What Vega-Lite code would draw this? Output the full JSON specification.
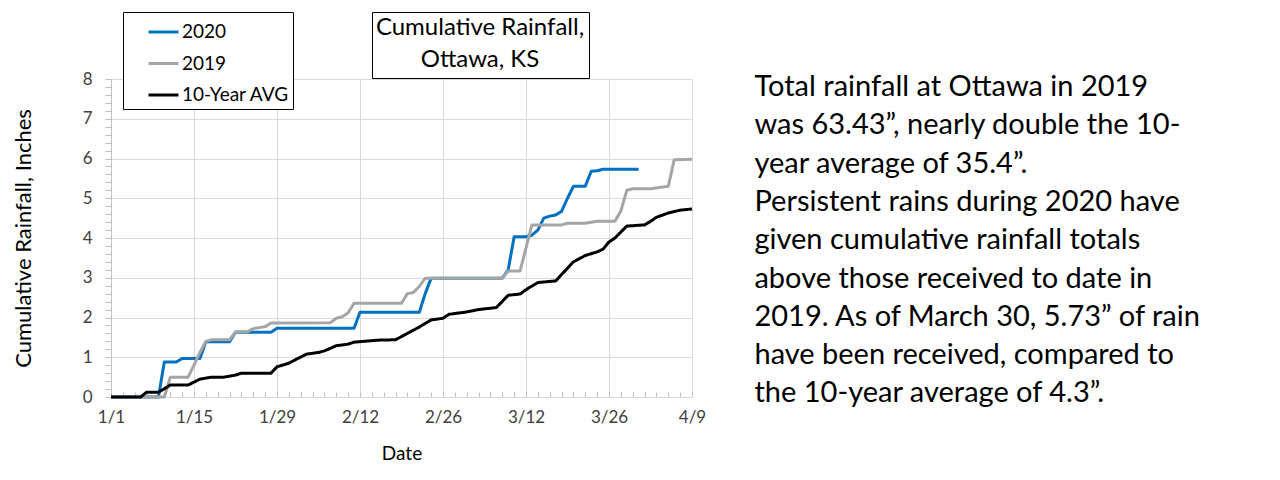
{
  "$schema": "https://vega.github.io/schema/vega-lite/v6.json",
  "width": 581,
  "height": 318,
  "autosize": {"type": "none"},
  "padding": {"left": 111, "top": 79, "right": 588, "bottom": 83},
  "background": "white",
  "config": {
    "font": "Lato",
    "view": {"stroke": null},
    "axis": {"labelFont": "Lato", "titleFont": "Lato", "titleFontWeight": "normal", "titleColor": "black", "labelColor": "#404040", "gridColor": "#D9D9D9", "gridWidth": 1}
  },
  "title": {
    "text": ["Total rainfall at Ottawa in 2019", "was 63.43”, nearly double the 10-", "year average of 35.4”.", "Persistent rains during 2020 have", "given cumulative rainfall totals", "above those received to date in", "2019. As of March 30, 5.73” of rain", "have been received, compared to", "the 10-year average of 4.3”."],
    "orient": "right",
    "angle": 0,
    "anchor": "start",
    "align": "left",
    "baseline": "alphabetic",
    "frame": "group",
    "offset": 63,
    "dx": -462,
    "dy": 17,
    "limit": 2000,
    "font": "Lato",
    "fontSize": 29,
    "fontWeight": "normal",
    "color": "black",
    "lineHeight": 38.3
  },
  "data": {
    "values": [
      {"date": "2019-01-01", "series": "2020", "inches": 0},
      {"date": "2019-01-09", "series": "2020", "inches": 0},
      {"date": "2019-01-10", "series": "2020", "inches": 0.88},
      {"date": "2019-01-12", "series": "2020", "inches": 0.88},
      {"date": "2019-01-13", "series": "2020", "inches": 0.97},
      {"date": "2019-01-16", "series": "2020", "inches": 0.97},
      {"date": "2019-01-17", "series": "2020", "inches": 1.39},
      {"date": "2019-01-21", "series": "2020", "inches": 1.39},
      {"date": "2019-01-22", "series": "2020", "inches": 1.63},
      {"date": "2019-01-28", "series": "2020", "inches": 1.63},
      {"date": "2019-01-29", "series": "2020", "inches": 1.73},
      {"date": "2019-02-11", "series": "2020", "inches": 1.73},
      {"date": "2019-02-12", "series": "2020", "inches": 2.13},
      {"date": "2019-02-22", "series": "2020", "inches": 2.13},
      {"date": "2019-02-23", "series": "2020", "inches": 2.6},
      {"date": "2019-02-24", "series": "2020", "inches": 2.99},
      {"date": "2019-03-08", "series": "2020", "inches": 2.99},
      {"date": "2019-03-09", "series": "2020", "inches": 3.2},
      {"date": "2019-03-10", "series": "2020", "inches": 4.03},
      {"date": "2019-03-12", "series": "2020", "inches": 4.03},
      {"date": "2019-03-13", "series": "2020", "inches": 4.07},
      {"date": "2019-03-14", "series": "2020", "inches": 4.2},
      {"date": "2019-03-15", "series": "2020", "inches": 4.5},
      {"date": "2019-03-16", "series": "2020", "inches": 4.55},
      {"date": "2019-03-17", "series": "2020", "inches": 4.58},
      {"date": "2019-03-18", "series": "2020", "inches": 4.67},
      {"date": "2019-03-19", "series": "2020", "inches": 5.0},
      {"date": "2019-03-20", "series": "2020", "inches": 5.3},
      {"date": "2019-03-22", "series": "2020", "inches": 5.3},
      {"date": "2019-03-23", "series": "2020", "inches": 5.68},
      {"date": "2019-03-24", "series": "2020", "inches": 5.69},
      {"date": "2019-03-25", "series": "2020", "inches": 5.73},
      {"date": "2019-03-31", "series": "2020", "inches": 5.73},
      {"date": "2019-01-01", "series": "2019", "inches": 0},
      {"date": "2019-01-10", "series": "2019", "inches": 0},
      {"date": "2019-01-11", "series": "2019", "inches": 0.5},
      {"date": "2019-01-14", "series": "2019", "inches": 0.5},
      {"date": "2019-01-15", "series": "2019", "inches": 0.8},
      {"date": "2019-01-16", "series": "2019", "inches": 1.12},
      {"date": "2019-01-17", "series": "2019", "inches": 1.4},
      {"date": "2019-01-18", "series": "2019", "inches": 1.44},
      {"date": "2019-01-21", "series": "2019", "inches": 1.44},
      {"date": "2019-01-22", "series": "2019", "inches": 1.64},
      {"date": "2019-01-24", "series": "2019", "inches": 1.64},
      {"date": "2019-01-25", "series": "2019", "inches": 1.72},
      {"date": "2019-01-27", "series": "2019", "inches": 1.77},
      {"date": "2019-01-28", "series": "2019", "inches": 1.86},
      {"date": "2019-02-07", "series": "2019", "inches": 1.87},
      {"date": "2019-02-08", "series": "2019", "inches": 1.98},
      {"date": "2019-02-09", "series": "2019", "inches": 2.02},
      {"date": "2019-02-10", "series": "2019", "inches": 2.12},
      {"date": "2019-02-11", "series": "2019", "inches": 2.36},
      {"date": "2019-02-19", "series": "2019", "inches": 2.36},
      {"date": "2019-02-20", "series": "2019", "inches": 2.6},
      {"date": "2019-02-21", "series": "2019", "inches": 2.63},
      {"date": "2019-02-22", "series": "2019", "inches": 2.78},
      {"date": "2019-02-23", "series": "2019", "inches": 2.99},
      {"date": "2019-03-08", "series": "2019", "inches": 2.99},
      {"date": "2019-03-09", "series": "2019", "inches": 3.17},
      {"date": "2019-03-11", "series": "2019", "inches": 3.17},
      {"date": "2019-03-12", "series": "2019", "inches": 3.75},
      {"date": "2019-03-13", "series": "2019", "inches": 4.33},
      {"date": "2019-03-18", "series": "2019", "inches": 4.33},
      {"date": "2019-03-19", "series": "2019", "inches": 4.37},
      {"date": "2019-03-22", "series": "2019", "inches": 4.37},
      {"date": "2019-03-24", "series": "2019", "inches": 4.42},
      {"date": "2019-03-27", "series": "2019", "inches": 4.42},
      {"date": "2019-03-28", "series": "2019", "inches": 4.68},
      {"date": "2019-03-29", "series": "2019", "inches": 5.2},
      {"date": "2019-03-30", "series": "2019", "inches": 5.24},
      {"date": "2019-04-02", "series": "2019", "inches": 5.24},
      {"date": "2019-04-05", "series": "2019", "inches": 5.3},
      {"date": "2019-04-06", "series": "2019", "inches": 5.97},
      {"date": "2019-04-09", "series": "2019", "inches": 5.98},
      {"date": "2019-01-01", "series": "10-Year AVG", "inches": 0},
      {"date": "2019-01-06", "series": "10-Year AVG", "inches": 0},
      {"date": "2019-01-07", "series": "10-Year AVG", "inches": 0.12},
      {"date": "2019-01-09", "series": "10-Year AVG", "inches": 0.12},
      {"date": "2019-01-11", "series": "10-Year AVG", "inches": 0.3},
      {"date": "2019-01-14", "series": "10-Year AVG", "inches": 0.3},
      {"date": "2019-01-16", "series": "10-Year AVG", "inches": 0.45},
      {"date": "2019-01-18", "series": "10-Year AVG", "inches": 0.5},
      {"date": "2019-01-20", "series": "10-Year AVG", "inches": 0.5},
      {"date": "2019-01-22", "series": "10-Year AVG", "inches": 0.55},
      {"date": "2019-01-23", "series": "10-Year AVG", "inches": 0.6},
      {"date": "2019-01-28", "series": "10-Year AVG", "inches": 0.6},
      {"date": "2019-01-29", "series": "10-Year AVG", "inches": 0.76},
      {"date": "2019-01-31", "series": "10-Year AVG", "inches": 0.85},
      {"date": "2019-02-01", "series": "10-Year AVG", "inches": 0.93},
      {"date": "2019-02-03", "series": "10-Year AVG", "inches": 1.08},
      {"date": "2019-02-05", "series": "10-Year AVG", "inches": 1.12},
      {"date": "2019-02-06", "series": "10-Year AVG", "inches": 1.16},
      {"date": "2019-02-08", "series": "10-Year AVG", "inches": 1.29},
      {"date": "2019-02-10", "series": "10-Year AVG", "inches": 1.33},
      {"date": "2019-02-11", "series": "10-Year AVG", "inches": 1.38},
      {"date": "2019-02-15", "series": "10-Year AVG", "inches": 1.43},
      {"date": "2019-02-18", "series": "10-Year AVG", "inches": 1.44},
      {"date": "2019-02-20", "series": "10-Year AVG", "inches": 1.6},
      {"date": "2019-02-22", "series": "10-Year AVG", "inches": 1.76},
      {"date": "2019-02-24", "series": "10-Year AVG", "inches": 1.94},
      {"date": "2019-02-26", "series": "10-Year AVG", "inches": 1.98},
      {"date": "2019-02-27", "series": "10-Year AVG", "inches": 2.08},
      {"date": "2019-03-02", "series": "10-Year AVG", "inches": 2.14},
      {"date": "2019-03-04", "series": "10-Year AVG", "inches": 2.2},
      {"date": "2019-03-07", "series": "10-Year AVG", "inches": 2.25},
      {"date": "2019-03-09", "series": "10-Year AVG", "inches": 2.56},
      {"date": "2019-03-11", "series": "10-Year AVG", "inches": 2.59},
      {"date": "2019-03-12", "series": "10-Year AVG", "inches": 2.7},
      {"date": "2019-03-14", "series": "10-Year AVG", "inches": 2.88},
      {"date": "2019-03-17", "series": "10-Year AVG", "inches": 2.92},
      {"date": "2019-03-19", "series": "10-Year AVG", "inches": 3.24},
      {"date": "2019-03-20", "series": "10-Year AVG", "inches": 3.4},
      {"date": "2019-03-22", "series": "10-Year AVG", "inches": 3.56},
      {"date": "2019-03-24", "series": "10-Year AVG", "inches": 3.65},
      {"date": "2019-03-25", "series": "10-Year AVG", "inches": 3.72},
      {"date": "2019-03-26", "series": "10-Year AVG", "inches": 3.9},
      {"date": "2019-03-27", "series": "10-Year AVG", "inches": 4.0},
      {"date": "2019-03-29", "series": "10-Year AVG", "inches": 4.3},
      {"date": "2019-04-01", "series": "10-Year AVG", "inches": 4.33},
      {"date": "2019-04-02", "series": "10-Year AVG", "inches": 4.42},
      {"date": "2019-04-03", "series": "10-Year AVG", "inches": 4.52},
      {"date": "2019-04-05", "series": "10-Year AVG", "inches": 4.63},
      {"date": "2019-04-07", "series": "10-Year AVG", "inches": 4.7},
      {"date": "2019-04-09", "series": "10-Year AVG", "inches": 4.73}
    ]
  },
  "encoding": {
    "x": {
      "field": "date",
      "type": "temporal",
      "title": "Date",
      "scale": {"type": "utc", "nice": false, "domain": [{"year": 2019, "month": 1, "date": 1, "utc": true}, {"year": 2019, "month": 4, "date": 9, "utc": true}]},
      "axis": {
        "values": [1546300800000, 1546473600000, 1546646400000, 1546819200000, 1546992000000, 1547164800000, 1547337600000, 1547510400000, 1547683200000, 1547856000000, 1548028800000, 1548201600000, 1548374400000, 1548547200000, 1548720000000, 1548892800000, 1549065600000, 1549238400000, 1549411200000, 1549584000000, 1549756800000, 1549929600000, 1550102400000, 1550275200000, 1550448000000, 1550620800000, 1550793600000, 1550966400000, 1551139200000, 1551312000000, 1551484800000, 1551657600000, 1551830400000, 1552003200000, 1552176000000, 1552348800000, 1552521600000, 1552694400000, 1552867200000, 1553040000000, 1553212800000, 1553385600000, 1553558400000, 1553731200000, 1553904000000, 1554076800000, 1554249600000, 1554422400000, 1554595200000, 1554768000000],
        "labelExpr": "(datum.value - 1546300800000) % 1209600000 === 0 ? utcFormat(datum.value, '%-m/%-d') : ''",
        "gridOpacity": {"condition": {"test": "(datum.value - 1546300800000) % 1209600000 === 0", "value": 1}, "value": 0},
        "grid": true,
        "tickSize": -5,
        "tickColor": "#BFBFBF",
        "domainColor": "#D9D9D9",
        "labelFontSize": 17,
        "labelPadding": 17,
        "labelOverlap": false,
        "labelFlush": false,
        "labelBound": false,
        "titleFontSize": 19,
        "titlePadding": 19
      }
    },
    "y": {
      "field": "inches",
      "type": "quantitative",
      "title": "Cumulative Rainfall, Inches",
      "scale": {"domain": [0, 8], "nice": false},
      "axis": {
        "values": [0, 0.2, 0.4, 0.6, 0.8, 1, 1.2, 1.4, 1.6, 1.8, 2, 2.2, 2.4, 2.6, 2.8, 3, 3.2, 3.4, 3.6, 3.8, 4, 4.2, 4.4, 4.6, 4.8, 5, 5.2, 5.4, 5.6, 5.8, 6, 6.2, 6.4, 6.6, 6.8, 7, 7.2, 7.4, 7.6, 7.8, 8],
        "labelExpr": "datum.value % 1 === 0 ? format(datum.value, 'd') : ''",
        "gridOpacity": {"condition": {"test": "datum.value % 1 === 0", "value": 1}, "value": 0},
        "grid": true,
        "tickSize": 6,
        "tickColor": "#BFBFBF",
        "domainColor": "#BFBFBF",
        "labelFontSize": 17,
        "labelPadding": 13,
        "labelOverlap": false,
        "titleFontSize": 22,
        "titlePadding": 47
      }
    },
    "color": {
      "field": "series",
      "type": "nominal",
      "scale": {"domain": ["2020", "2019", "10-Year AVG"], "range": ["#0070C0", "#A5A5A5", "#000000"]},
      "legend": {
        "title": null,
        "orient": "none",
        "legendX": 12,
        "legendY": -67,
        "symbolType": "stroke",
        "symbolStrokeWidth": 3,
        "symbolSize": 900,
        "symbolOffset": 20.5,
        "labelOffset": 2,
        "labelFont": "Lato",
        "labelFontSize": 19,
        "labelColor": "black",
        "rowPadding": 4.5,
        "padding": 3.5,
        "strokeColor": "black",
        "fillColor": "white"
      }
    }
  },
  "layer": [
    {"transform": [{"filter": "datum.series === '2020'"}], "mark": {"type": "line", "strokeWidth": 3, "strokeJoin": "round"}},
    {"transform": [{"filter": "datum.series === '2019'"}], "mark": {"type": "line", "strokeWidth": 3, "strokeJoin": "round"}},
    {
      "transform": [{"filter": "datum.series === '10-Year AVG'"}],
      "mark": {"type": "line", "strokeWidth": 3, "strokeJoin": "round"},
      "encoding": {
        "strokeDash": {
          "datum": "Ottawa, KS",
          "scale": {"range": [[1, 0]]},
          "legend": {
            "title": ["Cumulative Rainfall,", "Ottawa, KS"],
            "orient": "none",
            "legendX": 261,
            "legendY": -67,
            "titleFont": "Lato",
            "titleFontSize": 24,
            "titleFontWeight": "normal",
            "titleColor": "black",
            "titleAlign": "center",
            "titleAnchor": "middle",
            "titleLineHeight": 32,
            "titleLimit": 400,
            "titlePadding": 0,
            "labelExpr": "''",
            "labelFontSize": 1,
            "symbolSize": 1,
            "symbolOpacity": 0,
            "padding": 4,
            "strokeColor": "black",
            "fillColor": "white"
          }
        }
      }
    }
  ]
}
